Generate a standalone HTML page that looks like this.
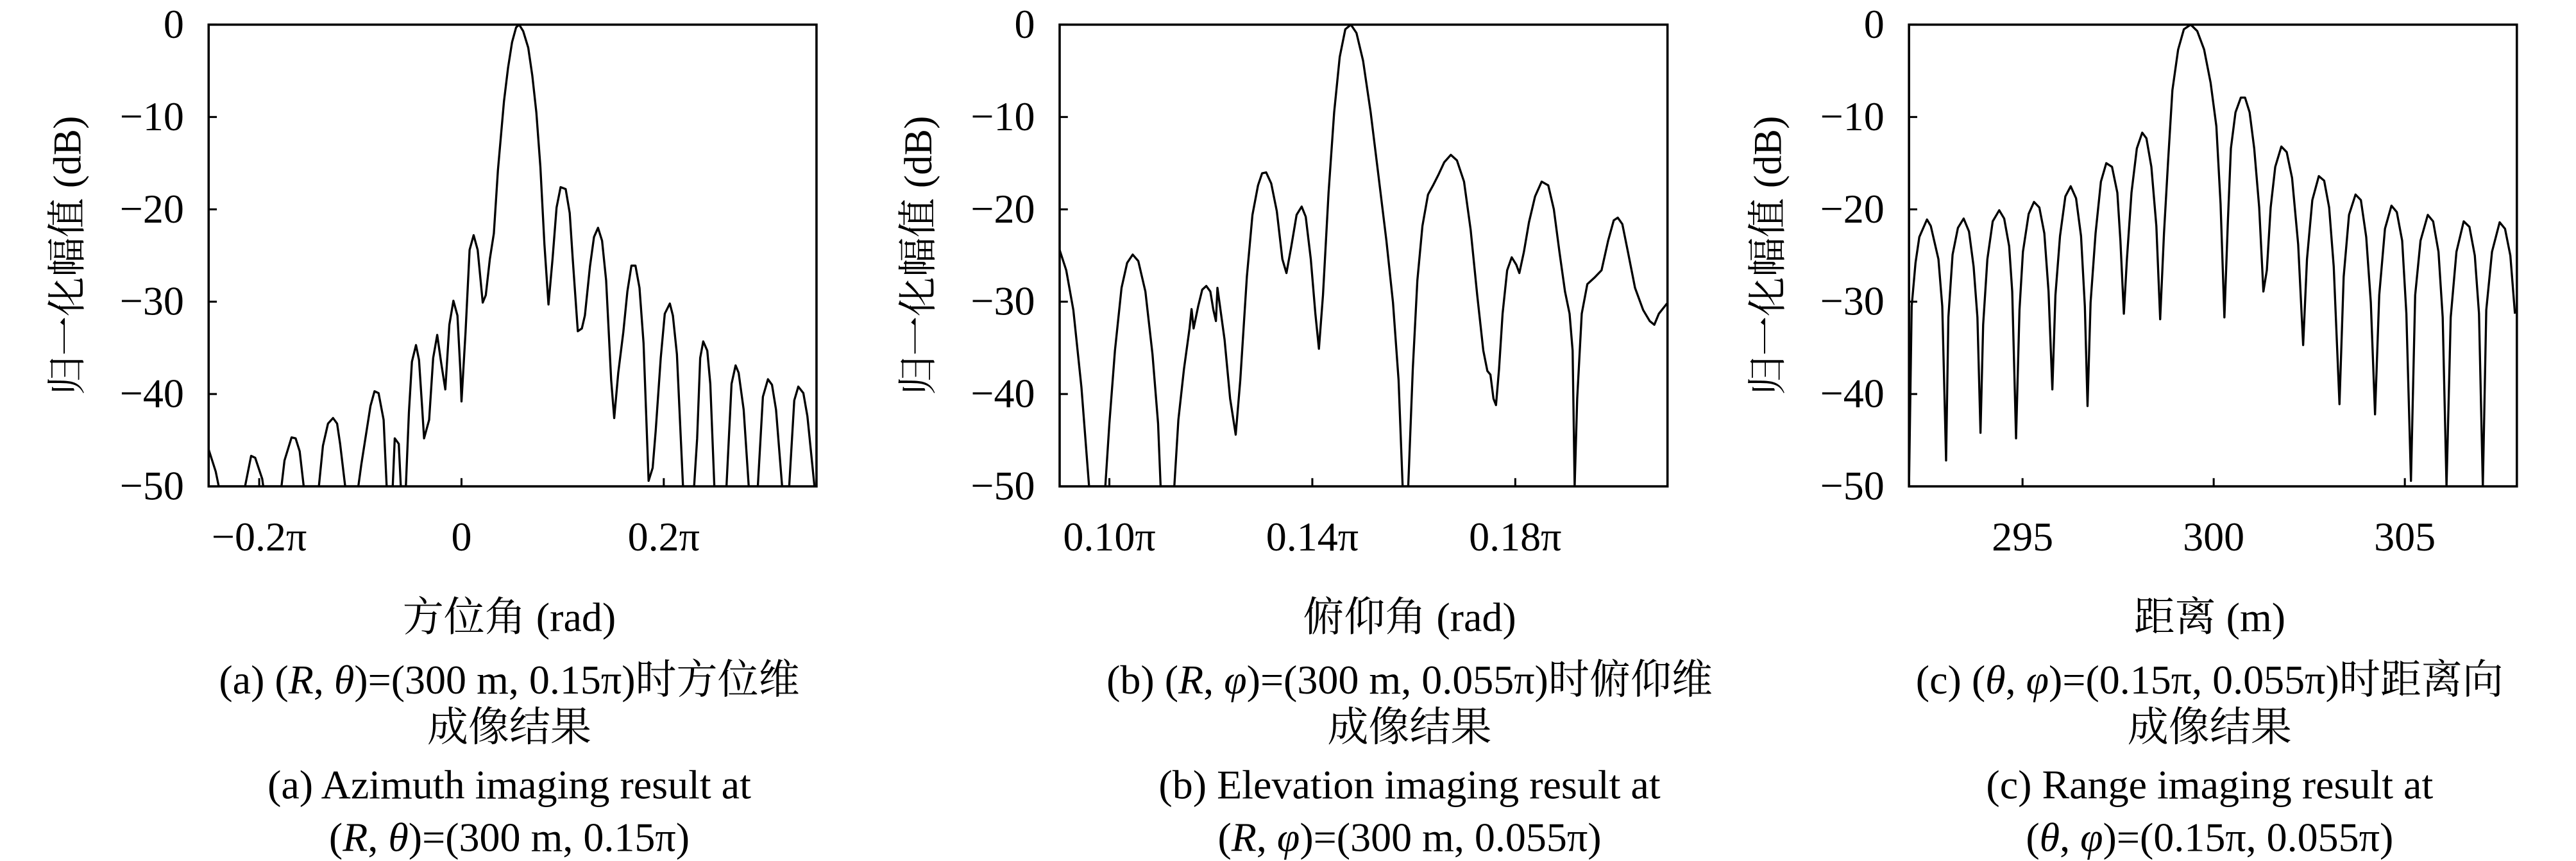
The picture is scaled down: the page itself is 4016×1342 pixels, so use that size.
<!DOCTYPE html>
<html><head><meta charset="utf-8">
<style>
html,body{margin:0;padding:0;background:#fff;}
svg{display:block;}
text{font-family:"Liberation Serif","Noto Serif CJK SC","Noto Sans CJK SC",serif;fill:#000;}
</style></head>
<body>
<svg id="fig" xmlns="http://www.w3.org/2000/svg" width="4016" height="1342" viewBox="0 0 1568 524" preserveAspectRatio="none">
</svg>
<script>
// ---- Chart (a) azimuth data (x in units of pi, dB) ----
const azX = [-0.250,-0.243,-0.240,-0.214,-0.208,-0.204,-0.197,-0.196,-0.178,-0.175,-0.168,-0.164,-0.160,-0.156,-0.141,-0.137,-0.132,-0.127,-0.123,-0.120,-0.115,-0.102,-0.099,-0.090,-0.086,-0.082,-0.077,-0.074,-0.068,-0.066,-0.062,-0.060,-0.055,-0.052,-0.049,-0.045,-0.042,-0.039,-0.037,-0.032,-0.028,-0.024,-0.020,-0.016,-0.012,-0.008,-0.004,-0.001,0.000,0.004,0.008,0.012,0.016,0.021,0.024,0.028,0.032,0.036,0.042,0.046,0.050,0.054,0.057,0.061,0.066,0.070,0.074,0.078,0.082,0.086,0.090,0.094,0.098,0.103,0.107,0.110,0.115,0.119,0.122,0.127,0.131,0.135,0.139,0.143,0.148,0.151,0.155,0.160,0.164,0.168,0.172,0.176,0.180,0.185,0.189,0.192,0.197,0.201,0.206,0.209,0.213,0.217,0.219,0.230,0.233,0.236,0.239,0.243,0.246,0.250,0.262,0.267,0.271,0.274,0.279,0.284,0.293,0.298,0.303,0.307,0.311,0.317,0.324,0.329,0.333,0.338,0.342,0.349];
const azY = [-46,-48.4,-50,-50,-46.7,-46.9,-49.2,-50,-50,-47.2,-44.7,-44.8,-46.2,-50,-50,-45.6,-43.2,-42.6,-43.2,-45.4,-50,-50,-47.6,-41.3,-39.7,-39.9,-42.8,-50,-50,-44.8,-45.4,-50,-50,-42,-36.5,-34.7,-36.3,-41.3,-44.8,-42.8,-36.1,-33.6,-36.7,-39.5,-32.5,-29.9,-31.5,-37.7,-40.8,-33.3,-24.4,-22.8,-24.4,-30.1,-29.3,-25.4,-22.6,-15.8,-8.3,-4.7,-1.9,-0.3,0,-0.7,-2.5,-5.5,-9.5,-15.4,-23.8,-30.3,-25.4,-19.8,-17.6,-17.8,-20.4,-25.4,-33.2,-32.9,-31.5,-26.2,-23,-22,-23.4,-27.7,-38.5,-42.6,-37.7,-33.3,-28.9,-26.1,-26.1,-28.5,-34.5,-49.4,-48,-44,-36.1,-31.3,-30.2,-31.5,-35.7,-45.2,-50,-50,-44.8,-36.1,-34.3,-35.3,-38.9,-50,-50,-38.9,-36.9,-37.7,-41.7,-50,-50,-40.3,-38.4,-39,-41.7,-50,-50,-40.7,-39.2,-39.9,-42.4,-50];
const azTicks = [-0.2,0,0.2];
const azTickLabels = ["\u22120.2\u03c0","0","0.2\u03c0"];

// ---- Chart (b) elevation data ----
const elX = [0.0902,0.0915,0.0929,0.0945,0.096,0.0992,0.100,0.1011,0.1024,0.1035,0.1046,0.1057,0.1071,0.1085,0.1096,0.1101,0.1128,0.1136,0.1147,0.1158,0.1162,0.1166,0.1175,0.1183,0.1191,0.1199,0.1205,0.1210,0.1213,0.1218,0.1227,0.1238,0.1249,0.1258,0.1271,0.1282,0.1293,0.1301,0.1309,0.1319,0.1330,0.1341,0.1349,0.1358,0.1369,0.1379,0.1387,0.1397,0.1406,0.1413,0.1421,0.1432,0.1443,0.1454,0.1465,0.1476,0.1487,0.1500,0.1515,0.1530,0.1546,0.1559,0.1570,0.1578,0.1589,0.1598,0.1607,0.1617,0.1628,0.1638,0.1649,0.1660,0.1673,0.1685,0.1699,0.1712,0.1725,0.1737,0.1745,0.1751,0.1757,0.1762,0.1768,0.1775,0.1784,0.1793,0.1802,0.1808,0.1817,0.1827,0.1839,0.1852,0.1865,0.1876,0.1887,0.1898,0.1907,0.1913,0.1917,0.1922,0.1931,0.1942,0.1956,0.1970,0.1983,0.1994,0.2002,0.2011,0.2022,0.2036,0.2052,0.2065,0.2074,0.2083,0.2099];
const elY = [-24.4,-26.6,-30.9,-39.3,-50,-50,-43.2,-35.3,-28.5,-25.8,-24.9,-25.6,-28.9,-35.7,-43.2,-50,-50,-42.8,-37.3,-32.9,-30.8,-32.9,-30.5,-28.7,-28.3,-28.9,-30.9,-32.1,-28.5,-30.5,-34.1,-40.5,-44.4,-38.5,-27.3,-20.6,-17.4,-16.1,-16,-17.2,-20.2,-25.4,-26.9,-24.2,-20.6,-19.7,-20.8,-25.4,-31.3,-35.1,-29.3,-18.2,-9.5,-3.5,-0.5,0,-0.9,-3.9,-9.5,-16.2,-23.4,-30.1,-38.5,-50,-50,-37.3,-27.7,-21.8,-18.4,-17.4,-16.2,-14.9,-14.1,-14.7,-17,-22.2,-29.3,-35.3,-37.5,-37.9,-40.5,-41.2,-37.3,-31.3,-26.6,-25.2,-26,-26.9,-24.6,-21.4,-18.6,-17,-17.4,-20,-24.6,-28.9,-31.3,-35.3,-50,-40.5,-31.3,-28.1,-27.4,-26.6,-23.4,-21.2,-20.9,-21.6,-24.6,-28.5,-30.9,-32.1,-32.5,-31.3,-30.2];
const elTicks = [0.10,0.14,0.18];
const elTickLabels = ["0.10\u03c0","0.14\u03c0","0.18\u03c0"];

// ---- Chart (c) range data (m, dB) ----
const rgX = [292.03,292.1,292.2,292.3,292.5,292.6,292.8,292.9,293.0,293.06,293.17,293.31,293.46,293.6,293.72,293.82,293.9,293.97,294.08,294.22,294.39,294.52,294.65,294.73,294.83,294.92,295.01,295.16,295.3,295.44,295.57,295.68,295.78,295.86,295.98,296.12,296.26,296.4,296.53,296.63,296.7,296.78,296.91,297.05,297.19,297.34,297.48,297.56,297.65,297.73,297.85,297.99,298.13,298.24,298.37,298.5,298.6,298.7,298.81,298.92,299.07,299.22,299.4,299.57,299.75,299.92,300.07,300.18,300.28,300.37,300.45,300.57,300.71,300.82,300.94,301.06,301.19,301.3,301.39,301.49,301.61,301.77,301.91,302.05,302.21,302.34,302.44,302.58,302.75,302.89,303.02,303.14,303.29,303.4,303.54,303.71,303.85,303.99,304.11,304.22,304.33,304.48,304.65,304.79,304.93,305.04,305.16,305.27,305.41,305.6,305.74,305.88,305.99,306.09,306.2,306.35,306.54,306.69,306.83,306.94,307.04,307.13,307.28,307.48,307.62,307.76,307.88];
const rgY = [-50,-30.5,-25.8,-23,-21.1,-21.8,-25.4,-30.5,-47.2,-31.7,-24.9,-22,-21,-22.4,-26.2,-31.7,-44.2,-32.5,-25.4,-21.3,-20.1,-21,-24,-28.9,-44.8,-30.9,-24.6,-20.5,-19.2,-19.8,-22.6,-28.9,-39.5,-29.3,-22.9,-18.6,-17.5,-18.8,-22.9,-30.5,-41.3,-30.1,-22.6,-17,-15,-15.4,-18.2,-23.4,-31.3,-25.4,-18.2,-13.4,-11.7,-12.3,-15.4,-21.8,-31.9,-22.6,-14.6,-7.1,-2.7,-0.5,0,-0.7,-2.7,-6.3,-11,-19.4,-31.7,-21.4,-13.4,-9.5,-7.9,-7.9,-9.5,-13.4,-19.8,-28.9,-26.6,-19.8,-15.4,-13.2,-13.8,-16.6,-23.8,-34.7,-25.4,-19,-16.4,-16.9,-19.8,-26.2,-41.1,-27.3,-20.6,-18.4,-19,-23,-30.1,-42.2,-29.3,-22.1,-19.6,-20.3,-23.4,-31.3,-49.4,-29.3,-23.4,-20.6,-21.3,-24.6,-31.7,-50,-31.7,-24.6,-21.3,-21.9,-25,-31.3,-50,-30.9,-24.6,-21.4,-22.1,-25,-31.3];
const rgTicks = [295,300,305];
const rgTickLabels = ["295","300","305"];

const yTicks = [0,-10,-20,-30,-40,-50];
const yTickLabels = ["0","\u221210","\u221220","\u221230","\u221240","\u221250"];

const NS = "http://www.w3.org/2000/svg";
const svg = document.getElementById('fig');
function mk(tag, attrs, parent){
  const e = document.createElementNS(NS, tag);
  for (const k in attrs) e.setAttribute(k, attrs[k]);
  (parent||svg).appendChild(e);
  return e;
}
function txt(parent, x, y, size, anchor, content, name){
  const t = mk('text', {x:x, y:y, 'font-size':size, 'text-anchor':anchor}, parent);
  
  
  t.innerHTML = content;
  return t;
}

const T = 15, B = 296;
function chart(id, left, right, xmin, xmax, xs, ys, ticks, tickLabels, xTitle, cx, cap){
  const g = mk('g', {});
  
  
  const sx = v => left + (v - xmin) / (xmax - xmin) * (right - left);
  const sy = v => T + (0 - v) / 50 * (B - T);
  const clip = mk('clipPath', {id:'clip-' + id}, g);
  mk('rect', {x:left, y:T, width:right-left, height:B-T}, clip);
  let d = '';
  for (let i = 0; i < xs.length; i++) d += (i ? 'L' : 'M') + sx(xs[i]).toFixed(2) + ' ' + sy(ys[i]).toFixed(2);
  const p = mk('path', {d:d, fill:'none', stroke:'#000', 'stroke-width':1.3, 'stroke-linejoin':'round', 'clip-path':'url(#clip-' + id + ')'}, g);
  
  
  const fr = mk('rect', {x:left, y:T, width:right-left, height:B-T, fill:'none', stroke:'#000', 'stroke-width':1.4}, g);
  
  
  for (let i = 0; i < yTicks.length; i++){
    const y = sy(yTicks[i]);
    const tk = mk('line', {x1:left, x2:left+5, y1:y, y2:y, stroke:'#000', 'stroke-width':1.2}, g);
    
    
    txt(g, left - 15, y + 8, 25, 'end', yTickLabels[i], 'y-tick-label');
  }
  for (let i = 0; i < ticks.length; i++){
    const x = sx(ticks[i]);
    const tk = mk('line', {x1:x, x2:x, y1:B, y2:B-5, stroke:'#000', 'stroke-width':1.2}, g);
    
    
    txt(g, x, 335, 25, 'middle', tickLabels[i], 'x-tick-label');
  }
  const yt = txt(g, 0, 0, 24, 'middle', '归一化幅值 (dB)', 'y-axis-title');
  yt.setAttribute('transform', 'translate(' + (left - 78) + ',' + ((T + B) / 2) + ') rotate(-90)');
  txt(g, cx, 384, 25, 'middle', xTitle, 'x-axis-title');
  txt(g, cx, 422, 25, 'middle', cap[0], 'caption-cn-line1');
  txt(g, cx, 451, 25, 'middle', cap[1], 'caption-cn-line2');
  txt(g, cx, 486, 25, 'middle', cap[2], 'caption-en-line1');
  txt(g, cx, 518, 25, 'middle', cap[3], 'caption-en-line2');
}

chart('azimuth', 127, 497, -0.250, 0.351, azX, azY, azTicks, azTickLabels, '方位角 (rad)', 310,
  ['(a) (<tspan font-style="italic">R</tspan>, <tspan font-style="italic">θ</tspan>)=(300 m, 0.15π)时方位维', '成像结果', '(a) Azimuth imaging result at', '(<tspan font-style="italic">R</tspan>, <tspan font-style="italic">θ</tspan>)=(300 m, 0.15π)']);
chart('elevation', 645, 1015, 0.0902, 0.2100, elX, elY, elTicks, elTickLabels, '俯仰角 (rad)', 858,
  ['(b) (<tspan font-style="italic">R</tspan>, <tspan font-style="italic">φ</tspan>)=(300 m, 0.055π)时俯仰维', '成像结果', '(b) Elevation imaging result at', '(<tspan font-style="italic">R</tspan>, <tspan font-style="italic">φ</tspan>)=(300 m, 0.055π)']);
chart('range', 1162, 1532, 292.03, 307.93, rgX, rgY, rgTicks, rgTickLabels, '距离 (m)', 1345,
  ['(c) (<tspan font-style="italic">θ</tspan>, <tspan font-style="italic">φ</tspan>)=(0.15π, 0.055π)时距离向', '成像结果', '(c) Range imaging result at', '(<tspan font-style="italic">θ</tspan>, <tspan font-style="italic">φ</tspan>)=(0.15π, 0.055π)']);
</script>
</body></html>
